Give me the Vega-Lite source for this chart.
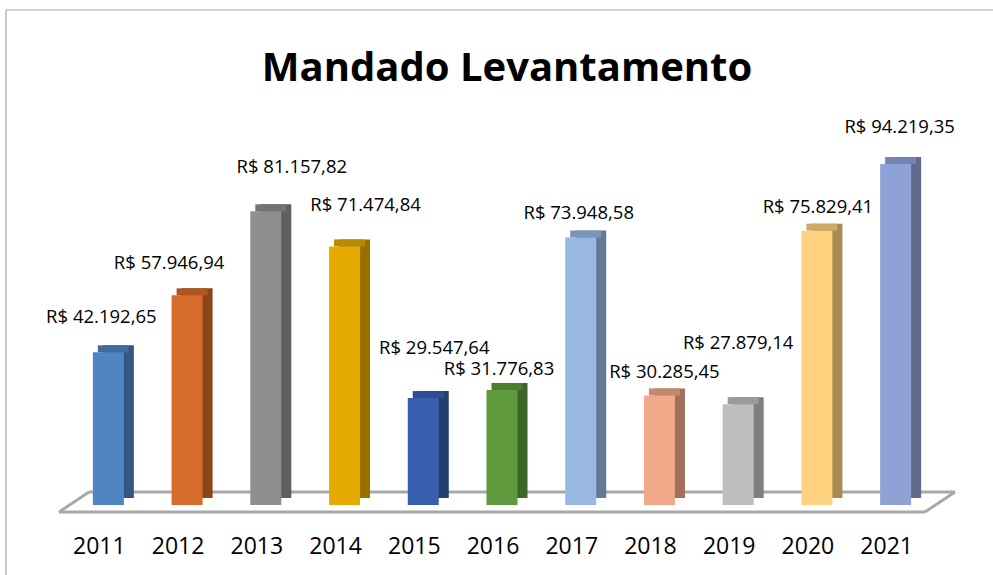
{
  "$schema": "https://vega.github.io/schema/vega-lite/v6.json",
  "width": 866,
  "height": 398,
  "autosize": {"type": "none"},
  "padding": {"left": 74, "top": 107, "right": 53, "bottom": 70},
  "background": "white",
  "title": {"text": "Mandado Levantamento", "font": "Open Sans", "fontSize": 40, "fontWeight": "bold", "color": "#000000", "anchor": "middle", "baseline": "alphabetic", "offset": -112},
  "data": {"values": [
    {"ano": "2011", "valor": 42192.65},
    {"ano": "2012", "valor": 57946.94},
    {"ano": "2013", "valor": 81157.82},
    {"ano": "2014", "valor": 71474.84},
    {"ano": "2015", "valor": 29547.64},
    {"ano": "2016", "valor": 31776.83},
    {"ano": "2017", "valor": 73948.58},
    {"ano": "2018", "valor": 30285.45},
    {"ano": "2019", "valor": 27879.14},
    {"ano": "2020", "valor": 75829.41},
    {"ano": "2021", "valor": 94219.35}
  ]},
  "config": {
    "view": {"stroke": null},
    "locale": {"number": {"decimal": ",", "thousands": ".", "grouping": [3], "currency": ["R$ ", ""]}},
    "text": {"font": "Open Sans", "fontSize": 18.5, "color": "#000000", "baseline": "middle"}
  },
  "layer": [
    {
      "data": {"values": [{}]},
      "mark": {"type": "rule", "color": "#A6A6A6", "strokeWidth": 1.2, "xOffset": -68, "x2Offset": -68, "yOffset": -97, "y2Offset": 80},
      "encoding": {"x": {"value": 0}, "y": {"value": 0}, "y2": {"value": "height"}}
    },
    {
      "data": {"values": [{}]},
      "mark": {"type": "rule", "color": "#A6A6A6", "strokeWidth": 1.2, "xOffset": -68, "x2Offset": 60, "yOffset": -97, "y2Offset": -97},
      "encoding": {"x": {"value": 0}, "x2": {"value": "width"}, "y": {"value": 0}}
    },
    {
      "data": {"values": [{}]},
      "mark": {"type": "rule", "color": "#A8A8A8", "strokeWidth": 3, "xOffset": -15, "x2Offset": -15, "yOffset": 7, "y2Offset": 7},
      "encoding": {"x": {"value": 0}, "x2": {"value": "width"}, "y": {"datum": 0, "scale": {"domain": [0, 110000], "nice": false}, "axis": null}}
    },
    {
      "data": {"values": [{}]},
      "mark": {"type": "rule", "color": "#A8A8A8", "strokeWidth": 3, "xOffset": 15, "x2Offset": 15, "yOffset": -13, "y2Offset": -13},
      "encoding": {"x": {"value": 0}, "x2": {"value": "width"}, "y": {"datum": 0}}
    },
    {
      "data": {"values": [{}]},
      "mark": {"type": "rule", "color": "#A8A8A8", "strokeWidth": 3, "xOffset": -15, "x2Offset": 15, "yOffset": 7, "y2Offset": -13},
      "encoding": {"x": {"value": 0}, "x2": {"value": 0}, "y": {"datum": 0}, "y2": {"datum": 0}}
    },
    {
      "data": {"values": [{}]},
      "mark": {"type": "rule", "color": "#A8A8A8", "strokeWidth": 3, "xOffset": -15, "x2Offset": 15, "yOffset": 7, "y2Offset": -13},
      "encoding": {"x": {"value": "width"}, "x2": {"value": "width"}, "y": {"datum": 0}, "y2": {"datum": 0}}
    },
    {
      "mark": {"type": "bar", "width": 31, "xOffset": 5, "x2Offset": 5, "yOffset": -7, "y2Offset": -7},
      "encoding": {
        "x": {"field": "ano", "type": "nominal", "sort": null, "scale": {"type": "band", "paddingInner": 0, "paddingOuter": 0},
          "axis": {"title": null, "domain": false, "ticks": false, "grid": false, "labelAngle": 0, "labelFont": "Open Sans", "labelFontSize": 23, "labelColor": "#000000", "labelOffset": -14, "labelPadding": 30}},
        "y": {"field": "valor", "type": "quantitative"},
        "color": {"field": "ano", "type": "nominal", "legend": null,
          "scale": {"domain": ["2011","2012","2013","2014","2015","2016","2017","2018","2019","2020","2021"],
            "range": ["#32587F","#8C4519","#5F5F5F","#977100","#233F72","#3E6628","#637A96","#A0705B","#7E7E7E","#A98A53","#5E6B8D"]}}
      }
    },
    {
      "mark": {"type": "tick", "size": 31, "thickness": 7, "yOffset": -3.5, "opacity": 1},
      "encoding": {
        "x": {"field": "ano", "type": "nominal", "sort": null},
        "y": {"field": "valor", "type": "quantitative"},
        "color": {"field": "ano", "type": "nominal", "legend": null,
          "scale": {"domain": ["2011","2012","2013","2014","2015","2016","2017","2018","2019","2020","2021"],
            "range": ["#3F6C9C","#AD5622","#737373","#B98A00","#2C4E8C","#4C7D32","#7A95B7","#C38970","#9A9A9A","#CFAA67","#7483AD"]}}
      }
    },
    {
      "mark": {"type": "bar", "width": 31, "xOffset": -5, "x2Offset": -5},
      "encoding": {
        "x": {"field": "ano", "type": "nominal", "sort": null},
        "y": {"field": "valor", "type": "quantitative"},
        "color": {"field": "ano", "type": "nominal", "legend": null,
          "scale": {"domain": ["2011","2012","2013","2014","2015","2016","2017","2018","2019","2020","2021"],
            "range": ["#4F86C1","#D66B2B","#8F8F8F","#E5AA00","#3761AE","#5F9B3E","#98B8E2","#F1A98A","#BEBEBE","#FFD27F","#8FA2D5"]}}
      }
    },
    {
      "encoding": {
        "x": {"field": "ano", "type": "nominal", "sort": null},
        "y": {"field": "valor", "type": "quantitative"},
        "text": {"field": "valor", "type": "quantitative", "format": "$,.2f"}
      },
      "layer": [
        {"transform": [{"filter": "datum.ano === '2011'"}], "mark": {"type": "text", "dx": -12, "dy": -35}},
        {"transform": [{"filter": "datum.ano === '2012'"}], "mark": {"type": "text", "dx": -23, "dy": -32}},
        {"transform": [{"filter": "datum.ano === '2013'"}], "mark": {"type": "text", "dx": 21, "dy": -44}},
        {"transform": [{"filter": "datum.ano === '2014'"}], "mark": {"type": "text", "dx": 16, "dy": -41}},
        {"transform": [{"filter": "datum.ano === '2015'"}], "mark": {"type": "text", "dx": 6, "dy": -50}},
        {"transform": [{"filter": "datum.ano === '2016'"}], "mark": {"type": "text", "dx": -8, "dy": -21}},
        {"transform": [{"filter": "datum.ano === '2017'"}], "mark": {"type": "text", "dx": -7, "dy": -24.5}},
        {"transform": [{"filter": "datum.ano === '2018'"}], "mark": {"type": "text", "dx": 0, "dy": -23.4}},
        {"transform": [{"filter": "datum.ano === '2019'"}], "mark": {"type": "text", "dx": -5, "dy": -61}},
        {"transform": [{"filter": "datum.ano === '2020'"}], "mark": {"type": "text", "dx": -4, "dy": -23.6}},
        {"transform": [{"filter": "datum.ano === '2021'"}], "mark": {"type": "text", "dx": -1, "dy": -37}}
      ]
    }
  ],
  "resolve": {"scale": {"color": "independent"}}
}
